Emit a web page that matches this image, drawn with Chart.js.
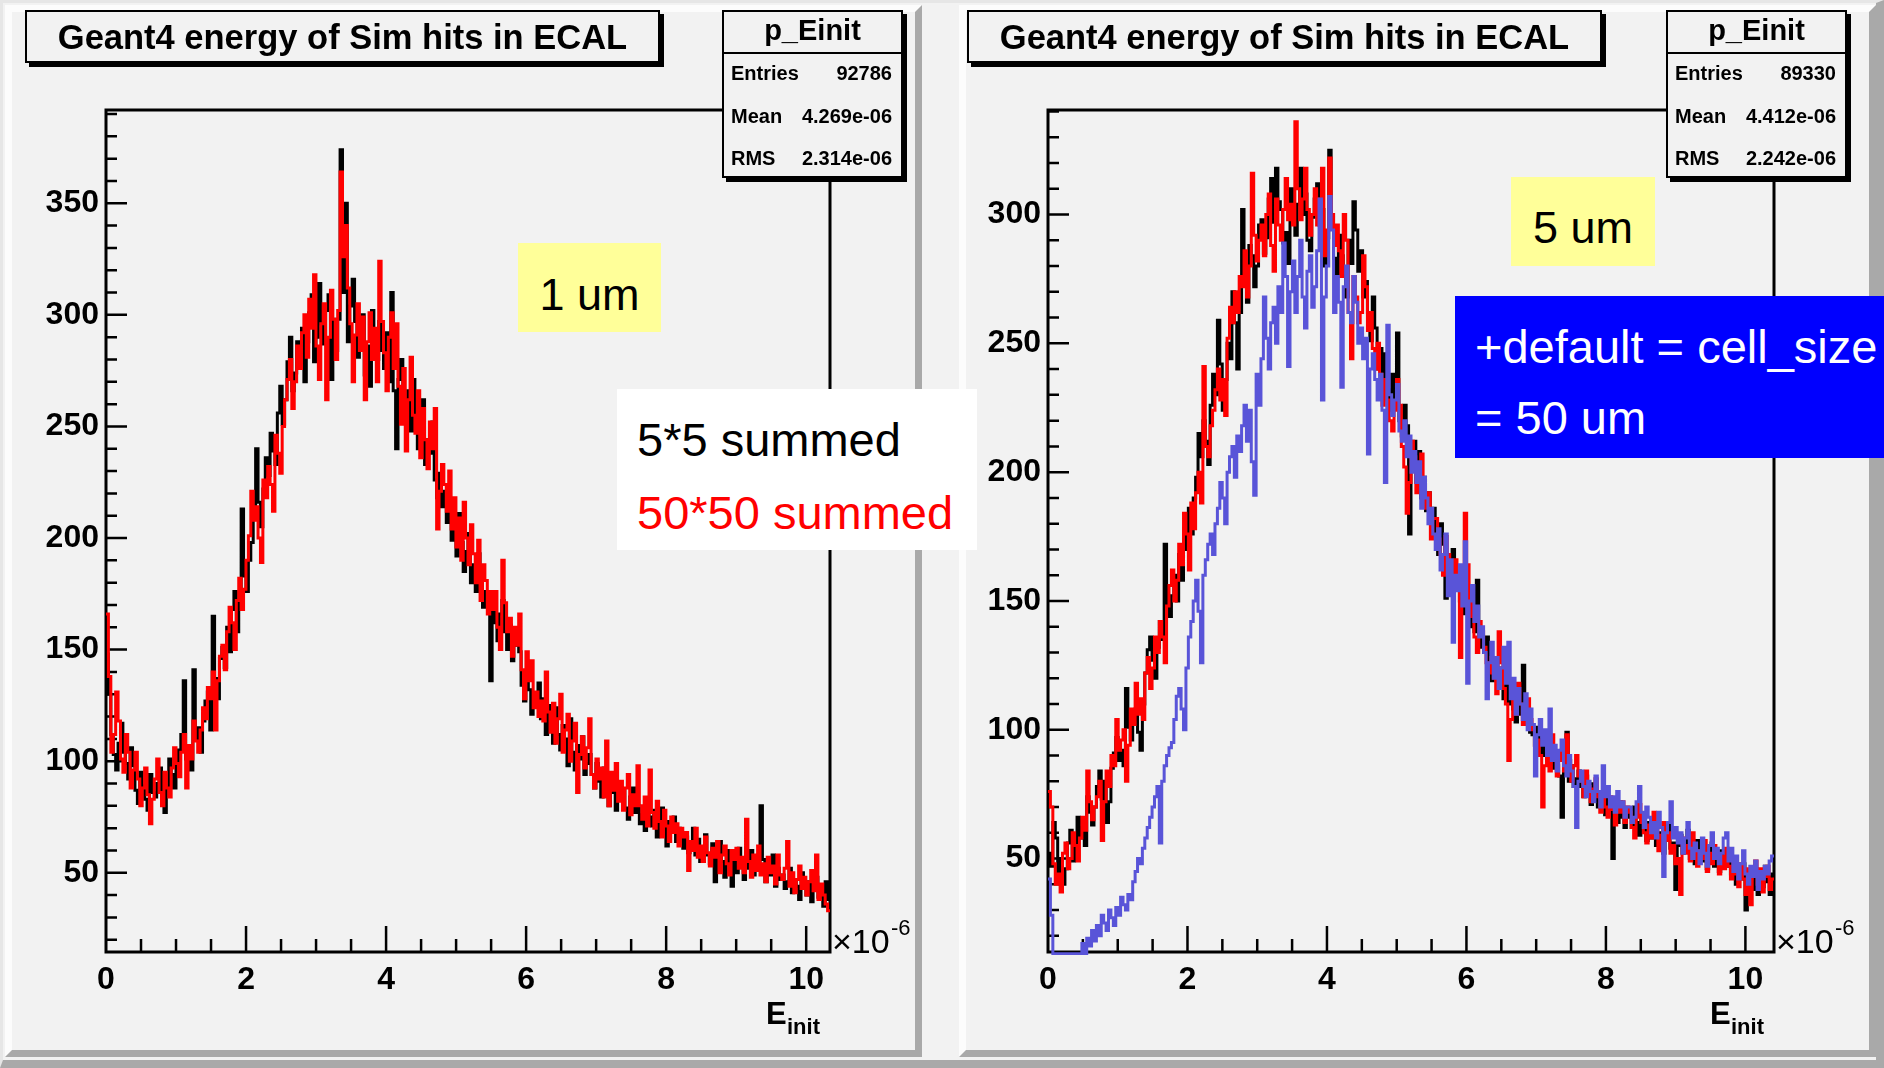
<!DOCTYPE html>
<html>
<head>
<meta charset="utf-8">
<script src="https://cdn.jsdelivr.net/npm/chart.js@4.4.1/dist/chart.umd.min.js"></script>
<style>
html, body { margin: 0; padding: 0; }
body { width: 1884px; height: 1068px; position: relative; overflow: hidden; background: #f2f2f2;
       font-family: "Liberation Sans", Arial, Helvetica, sans-serif; }
.outer { position: absolute; left: 0; top: 0; width: 1884px; height: 1068px; box-sizing: border-box;
         border-style: solid; border-width: 3px 8px 8px 3px; border-color: #e6e6e6 #a9a9a9 #a9a9a9 #e6e6e6; }
.pad { position: absolute; box-sizing: border-box; background: #f2f2f2; border-style: solid; border-width: 7px;
       border-color: #fcfcfc #a9a9a9 #a9a9a9 #fcfcfc; }
canvas { position: absolute; top: 0; z-index: 1; }
.box { position: absolute; box-sizing: border-box; border: 2px solid #000; background: #f2f2f2;
       box-shadow: 4px 4px 0 #000; z-index: 2; }
.lab { position: absolute; z-index: 2; }
.t { position: absolute; line-height: 1; white-space: nowrap; }
.hd { position: absolute; left: 0; right: 0; height: 2px; top: 40px; background: #000; }
</style>
</head>
<body>
<div class="outer"></div>
<div class="pad" style="left:5px;top:5px;width:917px;height:1052px;"></div>
<div class="pad" style="left:959px;top:5px;width:917px;height:1052px;"></div>

<canvas id="chartL" width="940" height="1068" style="left:0px;"></canvas>
<canvas id="chartR" width="942" height="1068" style="left:942px;"></canvas>

<!-- left pad -->
<div class="box" style="left:25px;top:10px;width:635px;height:53px;">
  <div class="t" style="left:0;right:0;top:8px;text-align:center;font-weight:bold;font-size:34.5px;">Geant4 energy of Sim hits in ECAL</div>
</div>
<div class="box" style="left:722px;top:10px;width:181px;height:168px;">
  <div class="t" style="left:0;right:0;top:4px;text-align:center;font-weight:bold;font-size:29px;">p_Einit</div>
  <div class="hd"></div>
  <div class="t" style="left:7px;top:51px;font-weight:bold;font-size:20px;">Entries</div>
  <div class="t" style="right:9px;top:51px;font-weight:bold;font-size:20px;">92786</div>
  <div class="t" style="left:7px;top:94px;font-weight:bold;font-size:20px;">Mean</div>
  <div class="t" style="right:9px;top:94px;font-weight:bold;font-size:20px;">4.269e-06</div>
  <div class="t" style="left:7px;top:136px;font-weight:bold;font-size:20px;">RMS</div>
  <div class="t" style="right:9px;top:136px;font-weight:bold;font-size:20px;">2.314e-06</div>
</div>
<div class="lab" style="left:518px;top:243px;width:143px;height:89px;background:#ffff99;">
  <div class="t" style="left:0;right:0;top:29px;text-align:center;font-size:45px;">1 um</div>
</div>
<div class="lab" style="left:617px;top:389px;width:360px;height:161px;background:#ffffff;">
  <div class="t" style="left:20px;top:27px;font-size:47px;color:#000;">5*5 summed</div>
  <div class="t" style="left:20px;top:100px;font-size:47px;color:#ff0000;">50*50 summed</div>
</div>
<div class="t lab" style="left:832px;top:924px;font-size:34px;">×10</div>
<div class="t lab" style="left:891px;top:917px;font-size:22px;">-6</div>
<div class="t lab" style="left:766px;top:998px;font-size:31px;font-weight:bold;">E</div>
<div class="t lab" style="left:787px;top:1016px;font-size:22px;font-weight:bold;">init</div>

<!-- right pad -->
<div class="box" style="left:967px;top:10px;width:635px;height:53px;">
  <div class="t" style="left:0;right:0;top:8px;text-align:center;font-weight:bold;font-size:34.5px;">Geant4 energy of Sim hits in ECAL</div>
</div>
<div class="box" style="left:1666px;top:10px;width:181px;height:168px;">
  <div class="t" style="left:0;right:0;top:4px;text-align:center;font-weight:bold;font-size:29px;">p_Einit</div>
  <div class="hd"></div>
  <div class="t" style="left:7px;top:51px;font-weight:bold;font-size:20px;">Entries</div>
  <div class="t" style="right:9px;top:51px;font-weight:bold;font-size:20px;">89330</div>
  <div class="t" style="left:7px;top:94px;font-weight:bold;font-size:20px;">Mean</div>
  <div class="t" style="right:9px;top:94px;font-weight:bold;font-size:20px;">4.412e-06</div>
  <div class="t" style="left:7px;top:136px;font-weight:bold;font-size:20px;">RMS</div>
  <div class="t" style="right:9px;top:136px;font-weight:bold;font-size:20px;">2.242e-06</div>
</div>
<div class="lab" style="left:1511px;top:177px;width:144px;height:89px;background:#ffff99;">
  <div class="t" style="left:0;right:0;top:28px;text-align:center;font-size:45px;">5 um</div>
</div>
<div class="lab" style="left:1455px;top:296px;width:429px;height:162px;background:#0000ff;">
  <div class="t" style="left:20px;top:27px;font-size:47px;color:#fff;">+default = cell_size</div>
  <div class="t" style="left:20px;top:98px;font-size:47px;color:#fff;">= 50 um</div>
</div>
<div class="t lab" style="left:1776px;top:924px;font-size:34px;">×10</div>
<div class="t lab" style="left:1835px;top:917px;font-size:22px;">-6</div>
<div class="t lab" style="left:1710px;top:998px;font-size:31px;font-weight:bold;">E</div>
<div class="t lab" style="left:1731px;top:1016px;font-size:22px;font-weight:bold;">init</div>

<script>
// axis ranges (E in units of 1e-6)
const xMaxL = 10.34, xMaxR = 10.41;
const yRangeL = [14.5, 391.8];
const yRangeR = [13.7, 340.6];
const xTickVals = [0, 2, 4, 6, 8, 10];
const yTickValsL = [50, 100, 150, 200, 250, 300, 350];
const yTickValsR = [50, 100, 150, 200, 250, 300];

// 1 um : 5*5 summed (black) and 50*50 summed (red), 300 bins each
const sum5L = [
  148, 130, 112, 103, 96, 108, 117, 104, 99, 92, 106, 98, 87, 81, 95, 89, 83, 78, 94, 86,
  84, 90, 97, 82, 77, 88, 101, 94, 88, 99, 105, 112, 136, 101, 104, 96, 141, 110, 115, 104,
  118, 127, 131, 114, 165, 137, 128, 146, 151, 142, 160, 149, 168, 176, 158, 171, 213, 183, 176, 190,
  198, 209, 240, 216, 205, 222, 236, 228, 247, 239, 233, 256, 268, 251, 262, 279, 290, 266, 274, 288,
  282, 294, 270, 288, 301, 309, 279, 290, 314, 296, 287, 302, 309, 271, 298, 284, 298, 374, 310, 350,
  288, 304, 316, 297, 281, 292, 300, 273, 286, 268, 302, 291, 280, 297, 284, 276, 292, 270, 310, 266,
  240, 271, 280, 262, 254, 266, 248, 271, 256, 240, 250, 262, 233, 244, 238, 252, 226, 218, 229, 214,
  221, 207, 216, 199, 206, 192, 211, 198, 185, 194, 202, 180, 188, 176, 193, 180, 169, 176, 172, 136,
  170, 162, 154, 166, 172, 158, 150, 161, 145, 152, 158, 149, 134, 127, 140, 132, 121, 130, 126, 135,
  119, 128, 112, 125, 117, 108, 124, 112, 105, 116, 110, 98, 119, 104, 96, 107, 101, 111, 94, 99,
  103, 94, 88, 99, 91, 84, 97, 89, 80, 92, 86, 78, 90, 83, 87, 79, 74, 84, 88, 77,
  80, 72, 76, 69, 82, 75, 71, 78, 66, 72, 79, 70, 62, 73, 68, 75, 64, 70, 67, 61,
  66, 59, 63, 70, 58, 65, 55, 61, 67, 58, 54, 63, 46, 57, 64, 55, 48, 60, 55, 44,
  56, 50, 61, 53, 47, 58, 52, 60, 49, 55, 51, 80, 56, 46, 53, 49, 58, 44, 52, 47,
  49, 43, 46, 52, 41, 47, 44, 38, 50, 43, 40, 46, 37, 44, 48, 39, 42, 35, 46, 38
];
const sum50L = [
  166, 138, 104, 112, 131, 118, 101, 95, 112, 104, 88, 96, 104, 92, 80, 88, 97, 85, 72, 83,
  92, 101, 86, 80, 95, 88, 84, 97, 106, 99, 93, 104, 112, 88, 107, 101, 118, 109, 104, 114,
  124, 119, 133, 128, 140, 114, 136, 147, 152, 141, 158, 169, 162, 150, 172, 182, 168, 177, 190, 201,
  221, 208, 214, 200, 189, 226, 218, 232, 224, 212, 246, 238, 229, 250, 262, 271, 280, 258, 270, 286,
  276, 292, 300, 281, 307, 294, 318, 286, 271, 296, 305, 262, 290, 311, 298, 280, 302, 364, 326, 340,
  312, 296, 270, 291, 305, 284, 299, 262, 288, 301, 280, 294, 270, 324, 297, 283, 266, 290, 301, 276,
  296, 268, 251, 276, 239, 262, 281, 255, 247, 266, 236, 258, 244, 231, 252, 240, 258, 204, 221, 233,
  224, 212, 230, 204, 218, 196, 209, 190, 216, 200, 188, 206, 193, 180, 199, 172, 188, 181, 166, 176,
  168, 176, 160, 150, 190, 171, 158, 164, 147, 160, 152, 166, 141, 128, 149, 136, 145, 124, 131, 120,
  127, 118, 140, 122, 113, 126, 108, 119, 130, 104, 114, 121, 100, 109, 117, 86, 103, 111, 97, 106,
  119, 94, 88, 101, 92, 97, 84, 109, 80, 95, 87, 99, 82, 91, 78, 88, 94, 76, 85, 80,
  98, 80, 74, 84, 71, 96, 77, 70, 82, 73, 66, 78, 71, 64, 75, 68, 72, 62, 70, 66,
  68, 51, 64, 60, 70, 57, 62, 55, 66, 59, 53, 61, 57, 64, 50, 58, 62, 54, 49, 60,
  56, 61, 52, 57, 50, 74, 55, 48, 58, 51, 62, 49, 54, 46, 57, 50, 53, 45, 58, 49,
  47, 52, 64, 44, 50, 41, 47, 53, 43, 48, 40, 46, 51, 42, 58, 38, 45, 40, 36, 33
];

// 5 um : 5*5 summed (black), 50*50 summed (red), default cell size (blue)
const sum5R = [
  52, 47, 64, 58, 44, 50, 40, 46, 56, 61, 49, 55, 66, 58, 62, 55, 74, 68, 63, 70,
  78, 84, 73, 80, 64, 72, 85, 91, 97, 88, 92, 86, 116, 101, 96, 104, 108, 99, 92, 110,
  122, 131, 136, 127, 120, 132, 142, 135, 172, 148, 144, 152, 160, 150, 168, 158, 178, 170, 186, 176,
  190, 198, 215, 206, 220, 212, 203, 226, 238, 230, 259, 242, 224, 236, 250, 244, 270, 258, 240, 262,
  302, 276, 266, 288, 284, 272, 280, 296, 298, 285, 291, 306, 314, 297, 318, 305, 302, 289, 293, 281,
  310, 298, 292, 304, 318, 300, 308, 290, 286, 299, 306, 312, 296, 302, 280, 291, 325, 300, 283, 276,
  292, 284, 276, 268, 290, 281, 305, 294, 278, 286, 268, 274, 262, 251, 268, 256, 240, 248, 236, 246,
  232, 224, 238, 229, 254, 220, 214, 226, 218, 176, 205, 212, 196, 208, 190, 198, 185, 192, 180, 186,
  176, 168, 180, 172, 151, 166, 160, 170, 155, 162, 150, 158, 145, 152, 140, 147, 138, 158, 132, 136,
  130, 136, 124, 119, 128, 121, 116, 124, 112, 118, 110, 115, 108, 103, 114, 106, 125, 102, 108, 99,
  98, 94, 101, 96, 90, 97, 88, 92, 85, 90, 86, 82, 66, 84, 99, 80, 86, 78, 81, 84,
  78, 74, 82, 76, 71, 79, 74, 70, 76, 72, 67, 73, 70, 50, 68, 64, 72, 66, 62, 69,
  66, 62, 70, 64, 59, 66, 61, 57, 64, 58, 62, 55, 60, 57, 52, 58, 63, 54, 56, 38,
  55, 59, 52, 56, 61, 50, 55, 48, 57, 53, 49, 55, 46, 52, 56, 47, 51, 45, 53, 48,
  47, 52, 44, 49, 40, 46, 42, 48, 30, 45, 41, 38, 46, 36, 43, 39, 47, 41, 36, 44
];
const sum50R = [
  76, 70, 48, 40, 44, 37, 52, 56, 46, 50, 60, 55, 49, 58, 66, 61, 84, 72, 65, 70,
  74, 80, 57, 72, 84, 78, 90, 86, 104, 92, 96, 100, 80, 94, 108, 102, 118, 106, 112, 104,
  122, 128, 116, 124, 136, 130, 142, 136, 126, 148, 156, 162, 150, 158, 172, 164, 184, 176, 162, 188,
  178, 192, 200, 188, 241, 210, 206, 218, 224, 232, 240, 228, 236, 222, 252, 264, 258, 270, 262, 276,
  272, 286, 268, 280, 316, 292, 282, 290, 296, 284, 300, 308, 288, 278, 306, 296, 290, 302, 314, 298,
  304, 296, 336, 310, 298, 306, 318, 302, 292, 300, 310, 296, 306, 318, 284, 294, 322, 300, 288, 296,
  286, 276, 300, 290, 262, 244, 276, 268, 258, 262, 284, 272, 255, 262, 248, 240, 250, 238, 226, 236,
  228, 220, 216, 224, 236, 226, 210, 202, 184, 196, 212, 206, 192, 200, 207, 196, 186, 192, 174, 182,
  182, 174, 168, 160, 175, 168, 158, 154, 166, 160, 128, 150, 184, 164, 150, 144, 136, 130, 142, 138,
  132, 126, 122, 128, 120, 114, 138, 126, 116, 110, 88, 104, 112, 106, 118, 110, 102, 108, 112, 104,
  100, 94, 96, 90, 70, 86, 92, 84, 98, 90, 82, 88, 92, 84, 98, 88, 80, 86, 90, 82,
  80, 74, 84, 78, 72, 77, 81, 74, 68, 75, 70, 66, 74, 69, 63, 71, 68, 72, 64, 70,
  68, 62, 58, 66, 71, 64, 60, 56, 63, 58, 68, 61, 53, 59, 64, 57, 60, 52, 55, 48,
  50, 36, 58, 52, 55, 49, 60, 54, 47, 53, 50, 57, 45, 52, 48, 55, 50, 44, 51, 46,
  54, 47, 42, 49, 44, 39, 48, 42, 36, 46, 32, 44, 49, 40, 46, 37, 43, 47, 38, 42
];
const defaultR = [
  42, 28, 13, 13, 13, 13, 13, 13, 13, 13, 13, 13, 13, 13, 17, 13, 19, 16, 22, 18,
  24, 20, 28, 25, 22, 30, 27, 24, 31, 28, 35, 32, 30, 36, 34, 41, 45, 50, 48, 54,
  58, 62, 66, 70, 74, 78, 56, 80, 86, 90, 93, 95, 104, 113, 116, 108, 100, 124, 136, 142,
  150, 158, 146, 126, 160, 166, 172, 176, 168, 180, 186, 196, 190, 180, 200, 206, 210, 198, 214, 208,
  218, 226, 212, 224, 204, 191, 238, 226, 244, 268, 252, 240, 258, 264, 250, 272, 262, 289, 276, 241,
  270, 282, 262, 276, 290, 268, 256, 278, 284, 264, 272, 286, 306, 228, 268, 280, 307, 294, 262, 276,
  266, 233, 272, 280, 262, 258, 276, 266, 250, 256, 244, 252, 207, 240, 246, 236, 228, 238, 224, 196,
  257, 230, 222, 228, 234, 216, 212, 220, 206, 214, 200, 208, 196, 204, 186, 198, 190, 180, 186, 176,
  170, 178, 162, 168, 176, 152, 166, 134, 160, 154, 164, 148, 173, 118, 150, 156, 142, 148, 136, 140,
  130, 112, 126, 134, 120, 128, 116, 124, 132, 118, 134, 112, 120, 106, 116, 110, 104, 114, 100, 108,
  102, 82, 98, 104, 94, 100, 90, 108, 88, 94, 84, 92, 96, 86, 82, 90, 84, 78, 62, 80,
  84, 78, 74, 80, 76, 72, 82, 76, 70, 86, 74, 78, 70, 74, 68, 76, 70, 72, 66, 70,
  70, 64, 66, 72, 78, 68, 62, 70, 66, 60, 64, 58, 68, 62, 43, 60, 64, 72, 58, 62,
  56, 60, 52, 58, 64, 54, 50, 56, 53, 48, 58, 52, 47, 55, 60, 50, 54, 48, 52, 58,
  60, 49, 54, 45, 51, 42, 48, 53, 44, 40, 47, 43, 49, 38, 45, 42, 47, 44, 49, 51
];

// histogram -> step points at bin low edges, closing point at the upper edge
function hist(counts, xMax) {
  const w = xMax / counts.length;
  const pts = counts.map((c, i) => ({ x: i * w, y: c }));
  pts.push({ x: xMax, y: counts[counts.length - 1] });
  return pts;
}

// ROOT-like frame: box plus inside ticks on the left and bottom axes
const rootFrame = {
  id: 'rootFrame',
  beforeDatasetsDraw(chart) {
    const { ctx, chartArea: a, scales: { x, y } } = chart;
    ctx.save();
    ctx.strokeStyle = '#000';
    ctx.lineWidth = 3;
    ctx.strokeRect(a.left, a.top, a.right - a.left, a.bottom - a.top);
    ctx.lineWidth = 2.5;
    ctx.beginPath();
    for (let v = Math.ceil(y.min / 10) * 10; v <= y.max; v += 10) {
      const py = y.getPixelForValue(v);
      const len = v % 50 === 0 ? 21 : 11;
      ctx.moveTo(a.left, py);
      ctx.lineTo(a.left + len, py);
    }
    for (let k = 1; k * 0.5 <= x.max; k++) {
      const px = x.getPixelForValue(k * 0.5);
      const len = k % 4 === 0 ? 26 : 13;
      ctx.moveTo(px, a.bottom);
      ctx.lineTo(px, a.bottom - len);
    }
    ctx.stroke();
    ctx.restore();
  }
};

const tickFont = { family: 'Liberation Sans', weight: 'bold', size: 32 };

function line(label, counts, xMax, color, order) {
  return {
    label: label,
    data: hist(counts, xMax),
    borderColor: color,
    borderWidth: 3,
    pointRadius: 0,
    stepped: true,
    fill: false,
    order: order,
    clip: { left: 2, top: 2, right: 2, bottom: 3 }
  };
}

function makeChart(id, datasets, xMax, yRange, yTicks) {
  return new Chart(document.getElementById(id), {
    type: 'line',
    data: { datasets: datasets },
    plugins: [rootFrame],
    options: {
      responsive: false,
      animation: false,
      devicePixelRatio: 1,
      layout: { padding: { left: 30, top: 110, right: 110, bottom: 56 } },
      plugins: { legend: { display: false }, tooltip: { enabled: false } },
      scales: {
        x: {
          type: 'linear', min: 0, max: xMax,
          grid: { display: false, drawTicks: false }, border: { display: false },
          afterFit: s => { s.height = 60; },
          afterBuildTicks: s => { s.ticks = xTickVals.map(v => ({ value: v })); },
          ticks: { autoSkip: false, maxRotation: 0, padding: 9, color: '#000', font: tickFont }
        },
        y: {
          type: 'linear', min: yRange[0], max: yRange[1],
          grid: { display: false, drawTicks: false }, border: { display: false },
          afterFit: s => { s.width = 76; },
          afterBuildTicks: s => { s.ticks = yTicks.map(v => ({ value: v })); },
          ticks: { padding: 7, color: '#000', font: tickFont }
        }
      }
    }
  });
}

makeChart('chartL', [
  line('5*5 summed', sum5L, xMaxL, '#000000', 2),
  line('50*50 summed', sum50L, xMaxL, '#ff0000', 1)
], xMaxL, yRangeL, yTickValsL);

makeChart('chartR', [
  line('5*5 summed', sum5R, xMaxR, '#000000', 2),
  line('50*50 summed', sum50R, xMaxR, '#ff0000', 1),
  line('default cell size', defaultR, xMaxR, '#5954d8', 0)
], xMaxR, yRangeR, yTickValsR);
</script>
</body>
</html>
